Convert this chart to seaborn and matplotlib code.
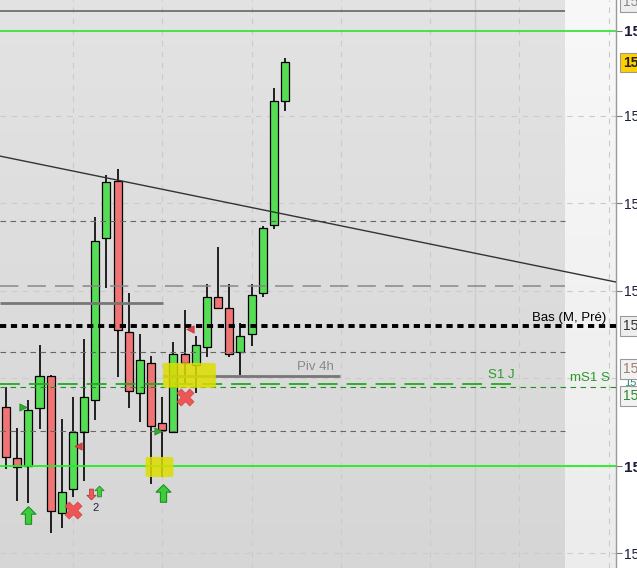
import matplotlib
matplotlib.use("Agg")
import matplotlib.pyplot as plt
from matplotlib.path import Path
from matplotlib.colors import LinearSegmentedColormap
from matplotlib.patches import FancyBboxPatch
import numpy as np
import pandas as pd
import seaborn as sns

# ---- candles ----
opens = [15333.4, 15321.7, 15319.9, 15333.2, 15340.5, 15309.2, 15314.6, 15327.7, 15335.0, 15372.1,
         15385.1, 15350.6, 15336.6, 15343.5, 15329.7, 15327.7, 15345.5, 15343.0, 15347.1, 15358.6,
         15356.1, 15346.0, 15350.1, 15359.5, 15375.1, 15403.4]
highs = [15338.0, 15328.6, 15335.0, 15347.6, 15340.7, 15330.7, 15335.7, 15349.0, 15376.9, 15386.5,
         15387.9, 15359.5, 15350.1, 15345.1, 15335.7, 15348.3, 15355.6, 15349.7, 15361.6, 15370.0,
         15361.6, 15352.6, 15361.6, 15374.8, 15406.4, 15413.3]
lows = [15319.2, 15311.9, 15311.4, 15328.4, 15304.6, 15305.7, 15312.8, 15316.5, 15330.4, 15360.6,
        15340.3, 15333.2, 15330.0, 15315.8, 15317.4, 15327.5, 15338.9, 15336.6, 15344.9, 15356.1,
        15344.9, 15340.7, 15347.4, 15358.6, 15374.1, 15401.1]
closes = [15322.0, 15319.7, 15332.7, 15340.5, 15309.6, 15314.0, 15327.7, 15335.7, 15371.4, 15384.9,
          15351.0, 15337.1, 15344.2, 15329.1, 15328.1, 15345.5, 15343.5, 15347.6, 15358.6, 15356.1,
          15345.5, 15349.7, 15359.0, 15374.4, 15403.4, 15412.4]

# ---- horizontal levels ----
top_line = 15424.0
green_top = 15419.45
green_bottom = 15319.9
dark_dash_levels = [15376.0, 15346.0, 15327.9]
long_dash_level = 15361.1
old_pivot = 15357.3
low_month = 15351.9
piv_4h = 15340.5
s1_day = 15338.7
ms1_week = 15338.0

trend_x = [-0.54, 54.66]
trend_price = [15390.8, 15362.0]

grid_prices = [15300, 15320, 15340, 15360, 15380, 15400]
vgrid_x = [6, 14, 22, 30, 38, 46, 54]
day_sep_x = 42

tick_prices = [15300, 15360, 15380, 15400]
bold_prices = [15319.9, 15419.45]

# right side price boxes
box_prices = [15426.1, 15412.2, 15351.9, 15342.1, 15335.9]
box_texts = ["15430", "15412", "15352", "15342", "15336"]
small_label_price = 15338.9

# signals
buy_x = [2.0, 14.07]
buy_price = [15308.7, 15313.7]
small_up_x = [8.33]
small_up_price = [15314.2]
small_down_x = [7.62]
small_down_price = [15313.5]
cross_x = [6.0, 16.04]
cross_price = [15309.8, 15335.7]
red_tri_x = [6.45, 16.5]
red_tri_price = [15324.5, 15351.3]
green_tri_x = [1.52, 13.6]
green_tri_price = [15333.4, 15327.9]

zone_x0 = [14.07, 12.5]
zone_x1 = [18.8, 15.0]
zone_lo = [15337.8, 15317.4]
zone_hi = [15343.5, 15322.0]

candles = pd.DataFrame({"open": opens, "high": highs, "low": lows, "close": closes})
candles["idx"] = np.arange(len(candles))
candles["up"] = candles["close"] >= candles["open"]

sns.set_style("white")
plt.rcParams["font.family"] = ["Liberation Sans", "DejaVu Sans"]

fig = plt.figure(figsize=(6.37, 5.68), dpi=100, facecolor="white")
ax = fig.add_axes([0, 0, 616 / 637, 1])
x_lo, x_hi = -0.54, 54.66
y_lo, y_hi = 15296.6, 15426.5
future_x = 50.09

grad = np.linspace(0, 1, 256).reshape(-1, 1)
ax.imshow(grad, extent=[x_lo, future_x, y_lo, y_hi], origin="lower", aspect="auto", zorder=0,
          cmap=LinearSegmentedColormap.from_list("bg", ["#d6d6d6", "#e3e3e3"]))
ax.imshow(grad, extent=[future_x, x_hi, y_lo, y_hi], origin="lower", aspect="auto", zorder=0,
          cmap=LinearSegmentedColormap.from_list("fut", ["#ececec", "#f8f8f8"]))

# grid
for p in grid_prices:
    ax.axhline(p, color="#cbcbcb", lw=0.8, ls=(0, (5, 5)), zorder=1)
for v in vgrid_x:
    ax.axvline(v, color="#cbcbcb", lw=0.8, ls=(0, (5, 5)), zorder=1)
ax.axvline(day_sep_x, color="#cccccc", lw=1.0, zorder=1)

# candles
ax.vlines(candles["idx"], candles["low"], candles["high"], color="black", lw=1.2, zorder=4)
body_col = np.where(candles["up"], "#56dd56", "#ef7474")
ax.bar(candles["idx"], candles["close"] - candles["open"], bottom=candles["open"], width=0.72,
       color=body_col, edgecolor="black", linewidth=0.9, zorder=5)

# levels
ax.hlines(top_line, x_lo, future_x, color="#666666", lw=1.2, zorder=6)
ax.axhline(green_top, color="#2ee02e", lw=1.2, zorder=6)
ax.axhline(green_bottom, color="#22ee22", lw=1.3, zorder=6)
ax.hlines(dark_dash_levels, x_lo, future_x, color="#666666", lw=0.8, ls=(0, (5, 4)), zorder=6)
ax.hlines(long_dash_level, x_lo, future_x, color="#888888", lw=1.1, ls=(0, (12, 6)), zorder=6)
ax.hlines(old_pivot, x_lo, 14.07, color="#777777", lw=2.0, zorder=6)
ax.hlines(piv_4h, 14.07, 29.9, color="#777777", lw=2.0, zorder=6)
ax.axhline(low_month, color="black", lw=2.8, ls=(0, (1.6, 1.2)), zorder=6)
ax.hlines(s1_day, x_lo, 46.1, color="#22aa22", lw=1.3, ls=(0, (11, 5)), zorder=6)
ax.axhline(ms1_week, color="#1f8f1f", lw=0.8, ls=(0, (5, 4)), zorder=6)

sns.lineplot(x=trend_x, y=trend_price, color="#333333", lw=1.0, ax=ax, zorder=7)

ax.text(47.1, low_month + 1.9, "Bas (M, Pré)", fontsize=9.5, color="black", va="center", zorder=8)
ax.text(26.1, piv_4h + 2.1, "Piv 4h", fontsize=9.5, color="#888888", va="center", zorder=8)
ax.text(43.2, s1_day + 2.0, "S1 J", fontsize=9.5, color="#2a9a2a", va="center", zorder=8)
ax.text(50.5, ms1_week + 2.0, "mS1 S", fontsize=9.5, color="#2a9a2a", va="center", zorder=8)

# yellow zones
for x0, x1, lo, hi in zip(zone_x0, zone_x1, zone_lo, zone_hi):
    ax.add_patch(FancyBboxPatch((x0, lo), x1 - x0, hi - lo, boxstyle="round,pad=0,rounding_size=0.3",
                                fc="#dddd00", ec="none", alpha=0.85, zorder=7))

# signal markers
up_arrow = Path([(0, 1), (0.85, 0.15), (0.35, 0.15), (0.35, -1), (-0.35, -1), (-0.35, 0.15),
                 (-0.85, 0.15), (0, 1)], closed=True)
down_arrow = Path([(0, -1), (0.85, -0.15), (0.35, -0.15), (0.35, 1), (-0.35, 1), (-0.35, -0.15),
                   (-0.85, -0.15), (0, -1)], closed=True)
ax.scatter(buy_x, buy_price, marker=up_arrow, s=160, color="#3ccc3c", edgecolor="#1f8f1f", lw=0.8, zorder=9)
ax.scatter(small_up_x, small_up_price, marker=up_arrow, s=60, color="#44cc44", edgecolor="#2a8a2a", lw=0.6, zorder=9)
ax.scatter(small_down_x, small_down_price, marker=down_arrow, s=60, color="#ee5a5a", edgecolor="#b03a3a", lw=0.6, zorder=9)
sns.scatterplot(x=cross_x, y=cross_price, marker="X", s=150, color="#ee5555", edgecolor="#d04444",
                linewidth=0.5, ax=ax, zorder=9)
sns.scatterplot(x=red_tri_x, y=red_tri_price, marker="<", s=28, color="#dd4444", edgecolor="#bb3333",
                linewidth=0.5, ax=ax, zorder=9)
sns.scatterplot(x=green_tri_x, y=green_tri_price, marker=">", s=28, color="#33aa33", edgecolor="#228822",
                linewidth=0.5, ax=ax, zorder=9)
ax.text(8.0, 15310.3, "2", fontsize=8, color="#222244", ha="center", va="center", zorder=9)

# axes
ax.set_xlim(x_lo, x_hi)
ax.set_ylim(y_lo, y_hi)
ax.set_xticks([])
for side in ["left", "top", "bottom"]:
    ax.spines[side].set_visible(False)
ax.spines["right"].set_color("#999999")
ax.spines["right"].set_linewidth(1.0)
ax.yaxis.tick_right()
all_ticks = tick_prices + bold_prices
ax.set_yticks(all_ticks)
ax.set_yticklabels([f"{p:.0f}" for p in all_ticks])
ax.tick_params(axis="y", length=4, width=0.8, color="#777777", pad=2, labelsize=10, labelcolor="#1a1a3a")
for lab, p in zip(ax.get_yticklabels(), all_ticks):
    if p in bold_prices:
        lab.set_fontweight("bold")
        lab.set_fontsize(11)

ytr = ax.get_yaxis_transform()
box_fc = ["#eeeeee", "#ffd000", "#eeeeee", "#f2f2f2", "#f2f2f2"]
box_tc = ["#888888", "#222222", "#333333", "#9a8070", "#2a8a2a"]
for p, t, fc, tc in zip(box_prices, box_texts, box_fc, box_tc):
    ax.text(1.0115, p, t, transform=ytr, fontsize=10, color=tc, va="center", ha="left", clip_on=False,
            fontweight="bold" if fc == "#ffd000" else "normal",
            bbox=dict(boxstyle="square,pad=0.2", fc=fc, ec="#999999", lw=0.8), zorder=10)
ax.text(1.013, small_label_price, "15339", transform=ytr, fontsize=8, color="#2a8a6a", va="center",
        ha="left", clip_on=False, zorder=9)

fig.savefig("out.png", dpi=100, facecolor="white")
